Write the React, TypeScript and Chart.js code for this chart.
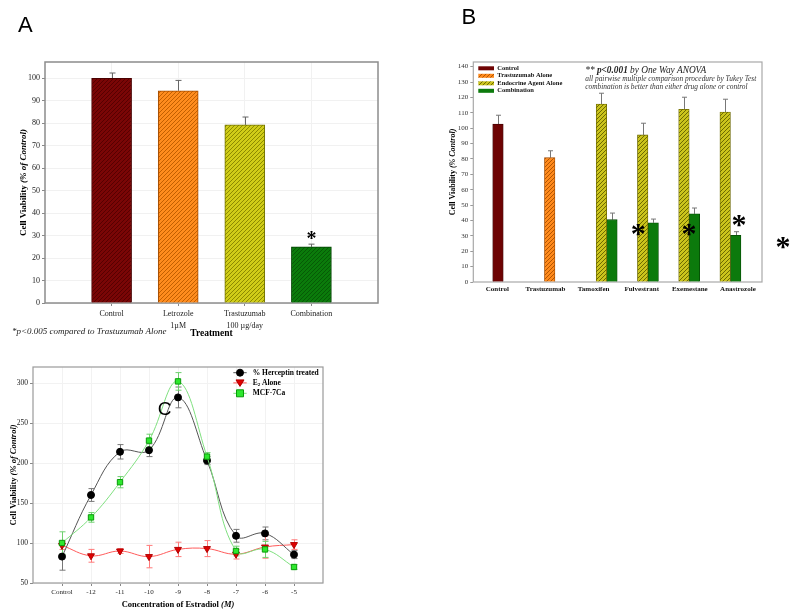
import React, { useEffect, useRef } from 'react';
import { Chart, registerables } from 'chart.js';
Chart.register(...registerables);

const SERIF = '"Liberation Serif", "Times New Roman", serif';
const SANS = '"Liberation Sans", Arial, sans-serif';

// ---------- Panel A data ----------
const aCategories: (string | string[])[] = ['Control', ['Letrozole', '1µM'], ['Trastuzumab', '100 µg/day'], 'Combination'];
const aValues = [100, 94.5, 79.3, 25];
const aErrors = [2.4, 4.6, 3.5, 1.2];
const aYTicks = [0, 10, 20, 30, 40, 50, 60, 70, 80, 90, 100];

// ---------- Panel B data ----------
const bCategories = ['Control', 'Trastuzumab', 'Tamoxifen', 'Fulvestrant', 'Exemestane', 'Anastrozole'];
const bSeriesNames = ['Control', 'Trastuzumab Alone', 'Endocrine Agent Alone', 'Combination'];
const bControl = [102.7, null, null, null, null, null];
const bControlErr = [5.7, null, null, null, null, null];
const bTrastuzumab = [null, 80.8, null, null, null, null];
const bTrastuzumabErr = [null, 4.5, null, null, null, null];
const bEndocrine = [null, null, 115.6, 95.6, 112.3, 110.4];
const bEndocrineErr = [null, null, 7.1, 7.6, 7.8, 8.4];
const bCombination = [null, null, 40.5, 38.5, 44.3, 30.3];
const bCombinationErr = [null, null, 4.3, 2.4, 3.8, 2.4];
// significance marks (x in category units, y in % units)
const bStarX = [3.02, 4.25, 5.46, 6.53];
const bStarY = [34, 34, 39.4, 25.3];

// ---------- Panel C data ----------
const cCategories = ['Control', '-12', '-11', '-10', '-9', '-8', '-7', '-6', '-5'];
const cHerceptin = [83, 160, 214, 216, 282, 203, 109, 112, 85.5];
const cHerceptinErr = [17, 8, 9, 8, 13, 5, 8, 8, 5];
const cE2 = [97, 84, 90, 83, 92, 93, 86, 95, 98];
const cE2Err = [5, 8, 3, 14, 9, 10, 6, 14, 6];
const cMCF = [100, 132, 176, 228, 302, 208, 90, 92, 70];
const cMCFErr = [14, 6, 7, 8, 11, 5, 6, 10, 3];

type Part = { t: string; f: string; dy?: number };
function drawRich(ctx: CanvasRenderingContext2D, parts: Part[], x: number, y: number, align: 'left' | 'center', rot = 0, color = '#000') {
  ctx.save();
  ctx.translate(x, y);
  ctx.rotate(rot);
  let total = 0;
  for (const p of parts) { ctx.font = p.f; total += ctx.measureText(p.t).width; }
  let cx = align === 'center' ? -total / 2 : 0;
  ctx.textBaseline = 'middle';
  ctx.textAlign = 'left';
  ctx.fillStyle = color;
  for (const p of parts) {
    ctx.font = p.f;
    ctx.fillText(p.t, cx, p.dy || 0);
    cx += ctx.measureText(p.t).width;
  }
  ctx.restore();
}

function drawGlyphCentered(ctx: CanvasRenderingContext2D, t: string, font: string, x: number, y: number, color = '#000') {
  ctx.save();
  ctx.font = font;
  ctx.textAlign = 'center';
  ctx.textBaseline = 'alphabetic';
  const m = ctx.measureText(t);
  const asc = m.actualBoundingBoxAscent, desc = m.actualBoundingBoxDescent;
  ctx.fillStyle = color;
  ctx.fillText(t, x, y + (asc - desc) / 2);
  ctx.restore();
}

function hatch(bg: string, fg: string, size = 4): CanvasPattern | string {
  const c = document.createElement('canvas');
  c.width = size; c.height = size;
  const x = c.getContext('2d');
  if (!x) return bg;
  x.fillStyle = bg; x.fillRect(0, 0, size, size);
  x.strokeStyle = fg; x.lineWidth = 1;
  x.beginPath();
  x.moveTo(0, size); x.lineTo(size, 0);
  x.moveTo(-1, 1); x.lineTo(1, -1);
  x.moveTo(size - 1, size + 1); x.lineTo(size + 1, size - 1);
  x.stroke();
  return x.createPattern(c, 'repeat') || bg;
}

const framePlugin = {
  id: 'frame',
  beforeDatasetsDraw(chart: any, _a: any, opts: any) {
    const { ctx, chartArea: a } = chart;
    ctx.save();
    ctx.strokeStyle = opts.color || '#999';
    ctx.lineWidth = opts.width || 1;
    ctx.strokeRect(a.left, a.top, a.right - a.left, a.bottom - a.top);
    ctx.restore();
  },
};

const errorBarPlugin = {
  id: 'errorBars',
  beforeDatasetsDraw(chart: any) {
    const ctx = chart.ctx;
    const yScale = chart.scales.y;
    chart.data.datasets.forEach((ds: any, di: number) => {
      if (!ds.errors) return;
      const meta = chart.getDatasetMeta(di);
      ctx.save();
      ctx.strokeStyle = ds.errorColor || '#555';
      ctx.lineWidth = 1;
      meta.data.forEach((el: any, j: number) => {
        const raw = ds.data[j];
        const v = raw && typeof raw === 'object' ? raw.y : raw;
        const e = ds.errors[j];
        if (v == null || e == null) return;
        const x = Math.round(el.x) + 0.5;
        const yTop = yScale.getPixelForValue(v + e);
        const yBot = ds.errorMode === 'up' ? yScale.getPixelForValue(v) : yScale.getPixelForValue(v - e);
        const cw = ds.capWidth || 6;
        ctx.beginPath();
        ctx.moveTo(x, yTop); ctx.lineTo(x, yBot);
        ctx.moveTo(x - cw / 2, yTop); ctx.lineTo(x + cw / 2, yTop);
        if (ds.errorMode !== 'up') { ctx.moveTo(x - cw / 2, yBot); ctx.lineTo(x + cw / 2, yBot); }
        ctx.stroke();
      });
      ctx.restore();
    });
  },
};

function ChartA() {
  const ref = useRef<HTMLCanvasElement>(null);
  useEffect(() => {
    if (!ref.current) return;
    const bgs = [hatch('#7a0606', '#560000'), hatch('#ff8c1e', '#c25f00'), hatch('#d0cd18', '#8c8a00'), hatch('#0b7b0b', '#065a06')];
    const borders = ['#4a0000', '#a04a00', '#707000', '#044404'];
    const annot = {
      id: 'annotA',
      afterDraw(chart: any) {
        const { ctx, chartArea: a, scales } = chart;
        ctx.save();
        ctx.font = `22px ${SANS}`;
        ctx.fillStyle = '#000';
        ctx.textBaseline = 'alphabetic';
        ctx.fillText('A', 18, 32);
        ctx.restore();
        drawRich(ctx, [
          { t: 'Cell Viability ', f: `bold 9px ${SERIF}` },
          { t: '(% of Control)', f: `italic bold 9px ${SERIF}` },
        ], 24, (a.top + a.bottom) / 2, 'center', -Math.PI / 2);
        drawRich(ctx, [{ t: '*p<0.005 compared to Trastuzumab Alone', f: `italic 9px ${SERIF}` }], 12, 332, 'left', 0, '#222');
        const i = 3;
        const x = scales.x.getPixelForValue(i);
        const y = scales.y.getPixelForValue(aValues[i] + aErrors[i]) - 9;
        drawGlyphCentered(ctx, '*', `bold 20px ${SERIF}`, x, y);
      },
    };
    const chart = new Chart(ref.current, {
      type: 'bar',
      data: {
        datasets: [{
          label: 'Cell Viability',
          data: aValues.map((v, i) => ({ x: i, y: v })),
          backgroundColor: bgs as any,
          borderColor: borders,
          borderWidth: 1,
          barThickness: 40,
          errors: aErrors, errorColor: '#666', errorMode: 'up', capWidth: 6,
        } as any],
      },
      options: {
        responsive: false,
        animation: false,
        events: [],
        layout: { padding: { top: 62, right: 42, left: 0, bottom: 0 } },
        plugins: { legend: { display: false }, tooltip: { enabled: false }, frame: { color: '#8c8c8c', width: 1.5 } } as any,
        scales: {
          x: {
            type: 'linear', min: -1, max: 4, offset: false,
            afterBuildTicks: (s: any) => { s.ticks = aCategories.map((_, i) => ({ value: i })); },
            afterFit: (s: any) => { s.height = 42; },
            ticks: { callback: (v: any) => aCategories[v] as any, font: { family: SERIF, size: 8, lineHeight: 1.5 }, color: '#222', maxRotation: 0, autoSkip: false, padding: 2 },
            grid: { color: '#f1f1f1', tickColor: '#888', tickLength: 3, offset: false },
            border: { display: false },
            title: { display: true, text: 'Treatment', font: { family: SERIF, size: 9.5, weight: 'bold' }, color: '#000', padding: { top: 0, bottom: 6 } },
          } as any,
          y: {
            min: 0, max: 107.3,
            afterBuildTicks: (s: any) => { s.ticks = aYTicks.map((v) => ({ value: v })); },
            afterFit: (s: any) => { s.width = 45; },
            ticks: { font: { family: SERIF, size: 8 }, color: '#222', padding: 2 },
            grid: { color: '#f1f1f1', tickColor: '#888', tickLength: 3 },
            border: { display: false },
          } as any,
        },
      },
      plugins: [framePlugin, errorBarPlugin, annot],
    });
    return () => chart.destroy();
  }, []);
  return <canvas ref={ref} width={420} height={345} style={{ position: 'absolute', left: 0, top: 0, display: 'block' }} />;
}

function ChartB() {
  const ref = useRef<HTMLCanvasElement>(null);
  useEffect(() => {
    if (!ref.current) return;
    const fills = ['#6e0303', hatch('#ff8a1c', '#b35500'), hatch('#cbc41c', '#6d6a00'), '#0c7a0c'];
    const borders = ['#3a0000', '#a04a00', '#6a6600', '#054805'];
    const values = [bControl, bTrastuzumab, bEndocrine, bCombination];
    const errs = [bControlErr, bTrastuzumabErr, bEndocrineErr, bCombinationErr];
    const annot = {
      id: 'annotB',
      afterDraw(chart: any) {
        const { ctx, chartArea: a, scales } = chart;
        ctx.save();
        ctx.font = `22px ${SANS}`;
        ctx.fillStyle = '#000';
        ctx.textBaseline = 'alphabetic';
        ctx.fillText('B', 41.5, 24);
        ctx.restore();
        drawRich(ctx, [
          { t: 'Cell Viability ', f: `bold 8px ${SERIF}` },
          { t: '(% Control)', f: `italic bold 8px ${SERIF}` },
        ], 33.3, (a.top + a.bottom) / 2, 'center', -Math.PI / 2);
        // legend
        chart.data.datasets.forEach((ds: any, i: number) => {
          const y = 68.3 + i * 7.5;
          ctx.save();
          ctx.fillStyle = ds.backgroundColor;
          ctx.fillRect(58.3, y - 2, 15.7, 4);
          ctx.restore();
          drawRich(ctx, [{ t: ds.label, f: `bold 6.5px ${SERIF}` }], 77.3, y, 'left', 0, '#111');
        });
        // note
        drawRich(ctx, [
          { t: '** ', f: `italic 9.3px ${SERIF}` },
          { t: 'p<0.001', f: `italic bold 9.3px ${SERIF}` },
          { t: ' by One Way ANOVA', f: `italic 9.3px ${SERIF}` },
        ], 165.3, 70.7, 'left', 0, '#222');
        drawRich(ctx, [{ t: 'all pairwise multiple comparison procedure by Tukey Test', f: `italic 7.4px ${SERIF}` }], 165.3, 79.3, 'left', 0, '#333');
        drawRich(ctx, [{ t: 'combination is better than either drug alone or control', f: `italic 7.4px ${SERIF}` }], 165.3, 86.8, 'left', 0, '#333');
        bStarX.forEach((sx, i) => {
          drawGlyphCentered(ctx, '*', `bold 30px ${SERIF}`, scales.x.getPixelForValue(sx), scales.y.getPixelForValue(bStarY[i]));
        });
      },
    };
    const chart = new Chart(ref.current, {
      type: 'bar',
      data: {
        datasets: bSeriesNames.map((name, si) => ({
          label: name,
          data: values[si].map((v, i) => ({ x: i, y: v })),
          backgroundColor: fills[si] as any,
          borderColor: borders[si],
          borderWidth: 0.8,
          barThickness: 10.5,
          errors: errs[si], errorColor: '#777', errorMode: 'up', capWidth: 5,
        } as any)),
      },
      options: {
        responsive: false,
        animation: false,
        events: [],
        layout: { padding: { top: 62, right: 38, left: 0, bottom: 0 } },
        plugins: { legend: { display: false }, tooltip: { enabled: false }, frame: { color: '#a8a8a8', width: 1.2 } } as any,
        scales: {
          x: {
            type: 'linear', min: -0.98, max: 6.02, offset: false, display: false,
          } as any,
          xLabels: {
            type: 'category', position: 'bottom', labels: bCategories, offset: true,
            afterFit: (s: any) => { s.height = 18; },
            ticks: { font: { family: SERIF, size: 7, weight: 'bold' }, color: '#111', maxRotation: 0, autoSkip: false, padding: 3 },
            grid: { display: false, drawTicks: false },
            border: { display: false },
          } as any,
          y: {
            min: 0, max: 143,
            ticks: { stepSize: 10, includeBounds: false, font: { family: SERIF, size: 7 }, color: '#333', padding: 2 },
            afterFit: (s: any) => { s.width = 53.3; },
            grid: { drawOnChartArea: false, tickColor: '#999', tickLength: 3 },
            border: { display: false },
          } as any,
        },
      },
      plugins: [framePlugin, errorBarPlugin, annot],
    });
    return () => chart.destroy();
  }, []);
  return <canvas ref={ref} width={380} height={300} style={{ position: 'absolute', left: 420, top: 0, display: 'block' }} />;
}

function ChartC() {
  const ref = useRef<HTMLCanvasElement>(null);
  useEffect(() => {
    if (!ref.current) return;
    const annot = {
      id: 'annotC',
      afterDraw(chart: any) {
        const { ctx, chartArea: a } = chart;
        drawRich(ctx, [
          { t: 'Cell Viability ', f: `bold 8.5px ${SERIF}` },
          { t: '(% of Control)', f: `italic bold 8.5px ${SERIF}` },
        ], 13.3, (a.top + a.bottom) / 2, 'center', -Math.PI / 2);
        drawRich(ctx, [
          { t: 'Concentration of Estradiol ', f: `bold 8.5px ${SERIF}` },
          { t: '(M)', f: `italic bold 8.5px ${SERIF}` },
        ], (a.left + a.right) / 2, 260, 'center');
        drawGlyphCentered(ctx, 'C', `19px ${SANS}`, 164.7, 63.3);
        // legend
        const rows = [27.7, 37.9, 48.3];
        chart.data.datasets.forEach((ds: any, i: number) => {
          const y = rows[i];
          ctx.save();
          ctx.strokeStyle = ds.borderColor;
          ctx.lineWidth = 1;
          ctx.beginPath(); ctx.moveTo(233.3, y); ctx.lineTo(246.7, y); ctx.stroke();
          ctx.fillStyle = ds.pointBackgroundColor;
          ctx.strokeStyle = ds.pointBorderColor;
          ctx.beginPath();
          if (ds.pointStyle === 'circle') ctx.arc(240, y, 3.5, 0, Math.PI * 2);
          else if (ds.pointStyle === 'rect') ctx.rect(236.5, y - 3.5, 7, 7);
          else { ctx.moveTo(236, y - 3); ctx.lineTo(244, y - 3); ctx.lineTo(240, y + 3.5); ctx.closePath(); }
          ctx.fill(); ctx.stroke();
          ctx.restore();
          const f = `bold 7.5px ${SERIF}`;
          if (ds.label === 'E2 Alone') {
            drawRich(ctx, [{ t: 'E', f }, { t: '2', f: `bold 5px ${SERIF}`, dy: 2 }, { t: ' Alone', f }], 252.7, y, 'left');
          } else {
            drawRich(ctx, [{ t: ds.label, f }], 252.7, y, 'left');
          }
        });
      },
    };
    const mk = (label: string, vals: number[], errs: number[], line: string, fill: string, edge: string, style: string, rot: number, radius: number, errColor: string, order: number) => ({
      label,
      data: vals.map((v, i) => ({ x: i, y: v })),
      borderColor: line,
      borderWidth: 1,
      tension: 0.4,
      pointStyle: style,
      pointRotation: rot,
      pointRadius: radius,
      pointBackgroundColor: fill,
      pointBorderColor: edge,
      pointBorderWidth: 1,
      order,
      errors: errs, errorColor: errColor, errorMode: 'both', capWidth: 6,
    } as any);
    const chart = new Chart(ref.current, {
      type: 'line',
      data: {
        datasets: [
          mk('% Herceptin treated', cHerceptin, cHerceptinErr, '#555555', '#000000', '#000000', 'circle', 0, 3.5, '#777777', 1),
          mk('E2 Alone', cE2, cE2Err, '#ff5a5a', '#e00000', '#b00000', 'triangle', 180, 4, '#ff7a7a', 2),
          mk('MCF-7Ca', cMCF, cMCFErr, '#7fe07f', '#2ee82e', '#0a9a0a', 'rect', 0, 3.8, '#6fd06f', 0),
        ],
      },
      options: {
        responsive: false,
        animation: false,
        events: [],
        layout: { padding: { top: 22, right: 97, left: 0, bottom: 0 } },
        plugins: { legend: { display: false }, tooltip: { enabled: false }, frame: { color: '#9a9a9a', width: 1.2 } } as any,
        scales: {
          x: {
            type: 'linear', min: -1, max: 9,
            afterBuildTicks: (s: any) => { s.ticks = cCategories.map((_, i) => ({ value: i })); },
            afterFit: (s: any) => { s.height = 33; },
            ticks: { callback: (v: any) => cCategories[v], font: { family: SERIF, size: 7 }, color: '#222', maxRotation: 0, autoSkip: false, padding: 2 },
            grid: { color: '#f2f2f2', tickColor: '#888', tickLength: 3 },
            border: { display: false },
          } as any,
          y: {
            min: 50, max: 320,
            ticks: { stepSize: 50, includeBounds: false, font: { family: SERIF, size: 7.5 }, color: '#222', padding: 2 },
            afterFit: (s: any) => { s.width = 33; },
            grid: { color: '#f2f2f2', tickColor: '#888', tickLength: 3 },
            border: { display: false },
          } as any,
        },
      },
      plugins: [framePlugin, errorBarPlugin, annot],
    });
    return () => chart.destroy();
  }, []);
  return <canvas ref={ref} width={420} height={271} style={{ position: 'absolute', left: 0, top: 345, display: 'block' }} />;
}

export default function App() {
  return (
    <div style={{ position: 'fixed', left: 0, top: 0, width: 800, height: 616, background: '#ffffff', overflow: 'hidden' }}>
      <ChartA />
      <ChartB />
      <ChartC />
    </div>
  );
}
